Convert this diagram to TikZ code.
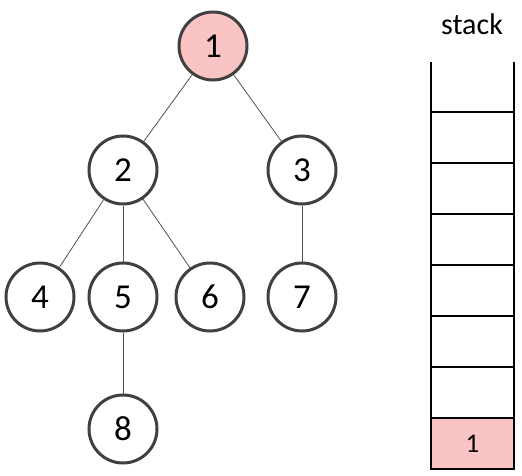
\documentclass[tikz,border=0pt]{standalone}
\usepackage{fontspec}
\setmainfont{Carlito}
\definecolor{pinkfill}{RGB}{250,196,196}
\definecolor{ringgray}{RGB}{64,64,64}
\definecolor{edgegray}{RGB}{80,80,80}
\begin{document}
\begin{tikzpicture}[x=1pt,y=-1pt,
  treenode/.style={circle,draw=ringgray,line width=3pt,minimum size=68pt,inner sep=0pt,font=\fontsize{35}{40}\selectfont},
  edge/.style={draw=edgegray,line width=0.8pt},
  stackline/.style={draw=black,line width=1.6pt}]
\useasboundingbox (0,0) rectangle (522,476);
\node[treenode,fill=pinkfill] (n1) at (213,46) {1};
\node[treenode] (n2) at (123,170) {2};
\node[treenode] (n3) at (302,170) {3};
\node[treenode] (n4) at (40,297) {4};
\node[treenode] (n5) at (123,297) {5};
\node[treenode] (n6) at (210,297) {6};
\node[treenode] (n7) at (302,297) {7};
\node[treenode] (n8) at (123,429) {8};
\draw[edge] (n1) -- (n2);
\draw[edge] (n1) -- (n3);
\draw[edge] (n2) -- (n4);
\draw[edge] (n2) -- (n5);
\draw[edge] (n2) -- (n6);
\draw[edge] (n3) -- (n7);
\draw[edge] (n5) -- (n8);
% stack
\node[font=\fontsize{30}{34}\selectfont] (stacklabel) at (472,24) {stack};
\fill[pinkfill] (431,418) rectangle (514,469);
\node[font=\fontsize{27}{30}\selectfont] (s1) at (472.5,444) {1};
\draw[stackline] (431,62) -- (431,469) -- (514,469) -- (514,62);
\foreach \yy in {112,163,214,265,316,367,418}
  \draw[stackline] (431,\yy) -- (514,\yy);
\end{tikzpicture}
\end{document}
